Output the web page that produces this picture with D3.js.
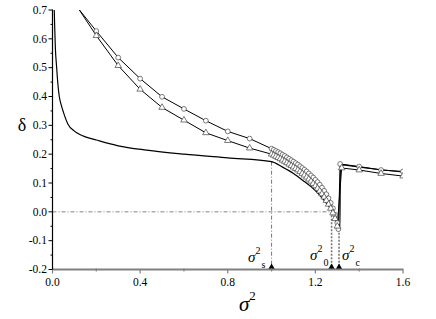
<!DOCTYPE html>
<html><head><meta charset="utf-8">
<script src="https://cdn.jsdelivr.net/npm/d3@7"></script>
<style>body{margin:0;background:#fff}svg{display:block}svg text{font-family:"Liberation Serif","Times New Roman","DejaVu Serif",serif !important}</style>
</head><body>
<svg id="c" width="436" height="319"></svg>
<script>
// Solid curve (theory)
const solidX = [0.008,0.010,0.013,0.019,0.025,0.031,0.040,0.050,0.070,0.100,0.125,0.150,0.200,0.300,0.430,0.600,0.800,1.000,1.050,1.100,1.150,1.190,1.220,1.250,1.270,1.290,1.300,1.308,1.312,1.314,1.400,1.500,1.600];
const solidY = [0.700,0.640,0.570,0.500,0.440,0.400,0.370,0.345,0.305,0.280,0.268,0.260,0.249,0.229,0.214,0.200,0.187,0.174,0.155,0.133,0.105,0.081,0.058,0.030,0.010,-0.012,-0.030,-0.048,-0.062,0.163,0.155,0.146,0.138];
// Circle series
const circX = [0.1,0.2,0.3,0.4,0.5,0.6,0.7,0.8,0.9,1.00,1.01,1.02,1.03,1.04,1.05,1.06,1.07,1.08,1.09,1.10,1.11,1.12,1.13,1.14,1.15,1.16,1.17,1.18,1.19,1.20,1.21,1.22,1.23,1.24,1.25,1.26,1.27,1.28,1.29,1.30,1.305,1.313,1.4,1.5,1.6];
const circY = [0.722,0.627,0.535,0.462,0.399,0.357,0.316,0.279,0.254,0.219,0.215,0.211,0.207,0.203,0.198,0.194,0.189,0.184,0.179,0.174,0.169,0.164,0.158,0.152,0.146,0.140,0.133,0.126,0.119,0.111,0.103,0.094,0.084,0.073,0.061,0.047,0.031,0.012,-0.010,-0.038,-0.060,0.166,0.157,0.145,0.140];
// Triangle series
const triX = [0.1,0.2,0.3,0.4,0.5,0.6,0.7,0.8,0.9,1.00,1.01,1.02,1.03,1.04,1.05,1.06,1.07,1.08,1.09,1.10,1.11,1.12,1.13,1.14,1.15,1.16,1.17,1.18,1.19,1.20,1.21,1.22,1.23,1.24,1.25,1.26,1.27,1.28,1.29,1.30,1.32,1.4,1.5,1.6];
const triY = [0.726,0.611,0.507,0.425,0.362,0.318,0.274,0.247,0.221,0.200,0.196,0.192,0.188,0.184,0.179,0.175,0.170,0.165,0.160,0.155,0.150,0.145,0.139,0.133,0.127,0.120,0.113,0.106,0.098,0.090,0.081,0.072,0.062,0.051,0.039,0.026,0.012,-0.004,-0.024,-0.050,0.152,0.145,0.133,0.124];
// Critical points
const critX = [1.0, 1.274, 1.308];
const critTop = [0.174, 0.0, -0.06];
const critSub = ["s", "0", "c"];
const xTicks = [0.0,0.4,0.8,1.2,1.6];
const yTicks = [-0.2,-0.1,0.0,0.1,0.2,0.3,0.4,0.5,0.6,0.7];

const svg = d3.select("#c");
const x = d3.scaleLinear().domain([0,1.6]).range([52.5,403]);
const y = d3.scaleLinear().domain([-0.2,0.7]).range([269.5,10]);

svg.append("clipPath").attr("id","clip").append("rect")
  .attr("x",52.5).attr("y",10).attr("width",403-52.5).attr("height",269.5-10);

// reference lines
svg.append("line").attr("x1",x(0)).attr("x2",x(1.274)).attr("y1",y(0)).attr("y2",y(0))
  .attr("stroke","#666").attr("stroke-width",0.8).attr("stroke-dasharray","4,2,1,2");
critX.forEach((cx,i)=>{
  const dash = i===0 ? "4,2,1,2" : "2,1.5";
  svg.append("line").attr("x1",x(cx)).attr("x2",x(cx)).attr("y1",y(critTop[i])).attr("y2",y(-0.2))
    .attr("stroke", i===0?"#555":"#777").attr("stroke-width", i===0?0.8:1.6).attr("stroke-dasharray",dash);
  const px = x(cx), py = y(-0.2);
  svg.append("path").attr("d",`M${px-3.5},${py}L${px+3.5},${py}L${px},${py-6}Z`).attr("fill","#000");
});

const g = svg.append("g").attr("clip-path","url(#clip)");
const lineLin = d3.line().x(d=>x(d[0])).y(d=>y(d[1]));
const lineSmooth = d3.line().x(d=>x(d[0])).y(d=>y(d[1])).curve(d3.curveMonotoneX);

const solid = solidX.map((v,i)=>[v,solidY[i]]);
const circ = circX.map((v,i)=>[v,circY[i]]);
const tri = triX.map((v,i)=>[v,triY[i]]);

g.append("path").attr("d",lineSmooth(solid)).attr("fill","none").attr("stroke","#000").attr("stroke-width",1.2);
g.append("path").attr("d",lineLin(circ)).attr("fill","none").attr("stroke","#000").attr("stroke-width",1);
g.append("path").attr("d",lineLin(tri)).attr("fill","none").attr("stroke","#000").attr("stroke-width",1);

g.selectAll("circle.m").data(circ).join("circle").attr("class","m")
  .attr("cx",d=>x(d[0])).attr("cy",d=>y(d[1])).attr("r",2.4)
  .attr("fill","#fff").attr("stroke","#444").attr("stroke-width",0.7);
const triSym = d3.symbol().type(d3.symbolTriangle).size(18);
g.selectAll("path.t").data(tri).join("path").attr("class","t")
  .attr("transform",d=>`translate(${x(d[0])},${y(d[1])})`).attr("d",triSym())
  .attr("fill","#fff").attr("stroke","#444").attr("stroke-width",0.7);

// axes
const xAxis = svg.append("g").attr("transform","translate(0,269.5)");
xAxis.append("line").attr("x1",52).attr("x2",403.5).attr("stroke","#808080").attr("stroke-width",2);
xAxis.selectAll("line.mj").data(xTicks).join("line").attr("class","mj")
  .attr("x1",d=>x(d)).attr("x2",d=>x(d)).attr("y1",0).attr("y2",4).attr("stroke","#808080").attr("stroke-width",1.2);
xAxis.selectAll("line.mn").data(d3.range(0.2,1.6,0.4)).join("line").attr("class","mn")
  .attr("x1",d=>x(d)).attr("x2",d=>x(d)).attr("y1",-1).attr("y2",2).attr("stroke","#808080").attr("stroke-width",1.2);
xAxis.selectAll("text").data(xTicks).join("text")
  .attr("x",d=>x(d)).attr("y",16).attr("text-anchor","middle").attr("font-size",11.5).attr("fill","#000")
  .text(d=>d.toFixed(1));

const yAxis = svg.append("g");
yAxis.append("line").attr("x1",52.5).attr("x2",52.5).attr("y1",9.5).attr("y2",269.5).attr("stroke","#000").attr("stroke-width",1.2);
yAxis.selectAll("line.mj").data(yTicks).join("line").attr("class","mj")
  .attr("x1",48.5).attr("x2",52.5).attr("y1",d=>y(d)).attr("y2",d=>y(d)).attr("stroke","#000").attr("stroke-width",1);
yAxis.selectAll("line.mn").data(yTicks.slice(0,-1).map(v=>v+0.05)).join("line").attr("class","mn")
  .attr("x1",50.5).attr("x2",52.5).attr("y1",d=>y(d)).attr("y2",d=>y(d)).attr("stroke","#000").attr("stroke-width",1);
yAxis.selectAll("text").data(yTicks).join("text")
  .attr("x",47).attr("y",d=>y(d)+3.8).attr("text-anchor","end").attr("font-size",11.5).attr("fill","#000")
  .text(d=>d.toFixed(1));

// axis titles
svg.append("text").attr("x",22).attr("y",131).attr("text-anchor","middle").attr("font-size",18).text("δ");
const xt = svg.append("text").attr("x",239).attr("y",311).attr("font-size",21).attr("font-style","italic");
xt.append("tspan").text("σ");
xt.append("tspan").attr("font-size",13).attr("font-style","normal").attr("dx",0).attr("dy",-11).text("2");

// critical labels
const labPos = [[248,262],[310,260],[342,260]];
critSub.forEach((s,i)=>{
  const t = svg.append("text").attr("x",labPos[i][0]).attr("y",labPos[i][1]).attr("font-size",15).attr("font-style","italic");
  t.append("tspan").text("σ");
  t.append("tspan").attr("font-size",10).attr("font-style","normal").attr("dy",-8).text("2");
  t.append("tspan").attr("font-size",10).attr("font-style","normal").attr("dx",1).attr("dy",14).text(s);
});
</script>
</body></html>
